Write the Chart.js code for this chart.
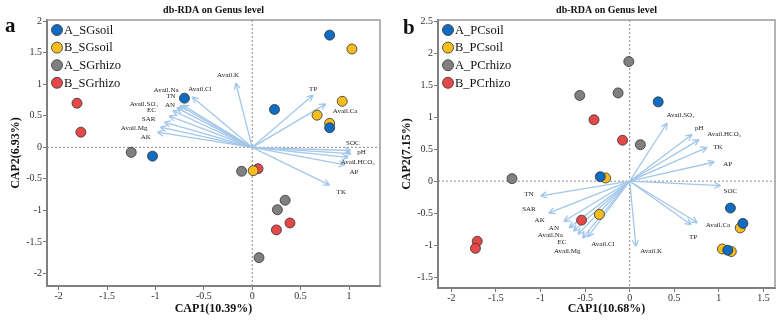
<!DOCTYPE html>
<html lang="en">
<head>
<meta charset="UTF-8">
<title>db-RDA on Genus level</title>
<script src="https://cdn.jsdelivr.net/npm/chart.js"></script>
<style>
  body { margin: 0; background: #fff; }
  .wrap { position: relative; width: 782px; height: 320px; }
  .panel { position: absolute; top: 0; width: 391px; height: 320px; }
  .tag { position: absolute; font: bold 21px "Liberation Serif", serif; line-height: 20px; color: #111; }
</style>
</head>
<body>
<div class="wrap">
  <div class="panel" style="left:0"><canvas id="chartA" width="391" height="320"></canvas></div>
  <div class="panel" style="left:391px"><canvas id="chartB" width="391" height="320"></canvas></div>
  <div class="tag" style="left:5px; top:15px">a</div>
  <div class="tag" style="left:403px; top:17px">b</div>
</div>
<script>
const SERIF = '"Liberation Serif", "Times New Roman", serif';
const groupColors = ['#0f6cc0', '#f5bd1f', '#808080', '#e44848'];

// ---- panel a (SG) ----
const groupsA = ['A_SGsoil', 'B_SGsoil', 'A_SGrhizo', 'B_SGrhizo'];
const sitesAX = [
  [-0.70, -1.03, 0.80, 0.23, 0.80],
  [1.03, 0.93, 0.67, 0.80, 0.01],
  [-1.25, -0.11, 0.34, 0.26, 0.07],
  [-1.81, -1.77, 0.06, 0.39, 0.25]
];
const sitesAY = [
  [0.78, -0.14, 1.78, 0.60, 0.31],
  [1.56, 0.73, 0.51, 0.38, -0.37],
  [-0.08, -0.38, -0.84, -0.99, -1.75],
  [0.70, 0.24, -0.34, -1.20, -1.31]
];
const envA = ['Avail.K', 'Avail.Cl', 'Avail.Na', 'TN', 'AN', 'Avail.SO\u2084', 'EC', 'SAR', 'Avail.Mg', 'AK',
              'TP', 'Avail.Ca', 'SOC', 'pH', 'Avail.HCO\u2083', 'AP', 'TK'];
const envAX = [-0.17, -0.62, -0.72, -0.75, -0.78, -0.82, -0.86, -0.91, -0.95, -0.98,
               0.63, 0.76, 1.02, 1.02, 0.99, 0.96, 0.80];
const envAY = [1.02, 0.80, 0.67, 0.66, 0.63, 0.58, 0.50, 0.40, 0.32, 0.24,
               0.83, 0.69, -0.05, -0.10, -0.16, -0.28, -0.60];
const envALabX = [-0.25, -0.54, -0.89, -0.84, -0.85, -1.12, -1.04, -1.07, -1.22, -1.10,
                  0.63, 0.96, 1.04, 1.13, 1.09, 1.05, 0.92];
const envALabY = [1.14, 0.92, 0.90, 0.81, 0.67, 0.69, 0.59, 0.44, 0.30, 0.16,
                  0.92, 0.57, 0.07, -0.08, -0.23, -0.40, -0.71];
const xTicksA = [-2, -1.5, -1, -0.5, 0, 0.5, 1];
const yTicksA = [-2, -1.5, -1, -0.5, 0, 0.5, 1, 1.5, 2];

// ---- panel b (PC) ----
const groupsB = ['A_PCsoil', 'B_PCsoil', 'A_PCrhizo', 'B_PCrhizo'];
const sitesBX = [
  [0.32, -0.33, 1.13, 1.27, 1.10],
  [-0.27, -0.34, 1.24, 1.04, 1.14],
  [-0.56, -0.01, -0.13, 0.12, -1.32],
  [-0.40, -0.08, -0.54, -1.71, -1.73]
];
const sitesBY = [
  [1.24, 0.07, -0.42, -0.66, -1.08],
  [0.05, -0.52, -0.73, -1.06, -1.10],
  [1.34, 1.87, 1.38, 0.57, 0.04],
  [0.96, 0.64, -0.61, -0.94, -1.05]
];
const envB = ['Avail.SO\u2084', 'pH', 'Avail.HCO\u2083', 'TK', 'AP', 'SOC', 'Avail.Ca', 'TP', 'Avail.K',
              'Avail.Cl', 'Avail.Mg', 'EC', 'Avail.Na', 'AN', 'AK', 'SAR', 'TN'];
const envBX = [0.42, 0.70, 0.78, 0.87, 0.95, 1.02, 0.76, 0.69, 0.07,
               -0.47, -0.53, -0.58, -0.63, -0.68, -0.74, -0.91, -1.00];
const envBY = [0.91, 0.73, 0.65, 0.53, 0.30, -0.07, -0.65, -0.68, -1.02,
               -0.87, -0.89, -0.83, -0.78, -0.73, -0.63, -0.50, -0.23];
const envBLabX = [0.57, 0.78, 1.06, 0.99, 1.10, 1.13, 0.99, 0.71, 0.24,
                  -0.30, -0.70, -0.76, -0.89, -0.85, -1.01, -1.13, -1.13];
const envBLabY = [1.03, 0.83, 0.73, 0.53, 0.27, -0.15, -0.68, -0.87, -1.10,
                  -0.98, -1.10, -0.96, -0.84, -0.73, -0.61, -0.44, -0.21];
const xTicksB = [-2, -1.5, -1, -0.5, 0, 0.5, 1, 1.5];
const yTicksB = [-1.5, -1, -0.5, 0, 0.5, 1, 1.5, 2, 2.5];

// frame, zero lines, env arrows + labels (behind the points); legend on top
const envArrows = {
  id: 'envArrows',
  beforeDatasetsDraw(chart, args, opts) {
    const {ctx, chartArea: area, scales: {x, y}} = chart;
    const x0 = x.getPixelForValue(0), y0 = y.getPixelForValue(0);
    ctx.save();
    ctx.strokeStyle = '#9a9a9a';
    ctx.lineWidth = 1.5;
    ctx.beginPath();
    ctx.moveTo(area.left, area.top);
    ctx.lineTo(area.right, area.top);
    ctx.lineTo(area.right, area.bottom);
    ctx.stroke();

    ctx.setLineDash([2, 2]);
    ctx.strokeStyle = '#8a8a8a';
    ctx.lineWidth = 1;
    ctx.beginPath();
    ctx.moveTo(x0, area.top); ctx.lineTo(x0, area.bottom);
    ctx.moveTo(area.left, y0); ctx.lineTo(area.right, y0);
    ctx.stroke();
    ctx.setLineDash([]);

    ctx.strokeStyle = '#a3c7ea';
    ctx.lineWidth = 1.3;
    opts.names.forEach((n, i) => {
      const tx = x.getPixelForValue(opts.x[i]), ty = y.getPixelForValue(opts.y[i]);
      const ang = Math.atan2(ty - y0, tx - x0);
      ctx.beginPath();
      ctx.moveTo(x0, y0);
      ctx.lineTo(tx, ty);
      for (const s of [-1, 1]) {
        const a2 = ang + Math.PI + s * 0.45;
        ctx.moveTo(tx, ty);
        ctx.lineTo(tx + 7 * Math.cos(a2), ty + 7 * Math.sin(a2));
      }
      ctx.stroke();
    });

    ctx.fillStyle = '#222';
    ctx.font = '7px ' + SERIF;
    ctx.textAlign = 'center';
    ctx.textBaseline = 'middle';
    opts.names.forEach((n, i) => {
      ctx.fillText(n, x.getPixelForValue(opts.lx[i]), y.getPixelForValue(opts.ly[i]));
    });
    ctx.restore();
  },
  afterDatasetsDraw(chart) {
    // legend inside the top-left corner of the plot
    const {ctx, chartArea: area} = chart;
    ctx.save();
    ctx.font = '12.5px ' + SERIF;
    ctx.textAlign = 'left';
    ctx.textBaseline = 'middle';
    chart.data.datasets.forEach((ds, i) => {
      const cy = area.top + 10 + i * 17.6;
      ctx.beginPath();
      ctx.arc(area.left + 10, cy, 5.5, 0, Math.PI * 2);
      ctx.fillStyle = ds.backgroundColor;
      ctx.fill();
      ctx.lineWidth = 0.8;
      ctx.strokeStyle = ds.borderColor;
      ctx.stroke();
      ctx.fillStyle = '#111';
      ctx.fillText(ds.label, area.left + 17, cy + 0.5);
    });
    ctx.restore();
  }
};

function makeChart(id, cfg) {
  const datasets = cfg.groups.map((g, i) => ({
    label: g,
    data: cfg.xs[i].map((v, j) => ({x: v, y: cfg.ys[i][j]})),
    backgroundColor: groupColors[i],
    borderColor: '#333',
    borderWidth: 0.8,
    pointRadius: 5,
    pointHoverRadius: 5
  }));
  const tickFont = {family: SERIF, size: 10};
  const titleFont = {family: SERIF, size: 12, weight: 'bold'};
  return new Chart(document.getElementById(id), {
    type: 'scatter',
    data: {datasets: datasets},
    plugins: [envArrows],
    options: {
      responsive: false,
      animation: false,
      events: [],
      layout: {padding: {left: 0, top: 0, right: cfg.padR, bottom: 0}},
      plugins: {
        tooltip: {enabled: false},
        legend: {display: false},
        title: {
          display: true,
          text: 'db-RDA on Genus level',
          fullSize: false,
          color: '#111',
          font: {family: SERIF, size: 10, weight: 'bold'},
          padding: {top: 4, bottom: 4}
        },
        envArrows: {names: cfg.env, x: cfg.ex, y: cfg.ey, lx: cfg.lx, ly: cfg.ly}
      },
      scales: {
        x: {
          type: 'linear',
          min: cfg.xMin, max: cfg.xMax,
          afterBuildTicks: s => { s.ticks = cfg.xTicks.map(v => ({value: v})); },
          afterFit: s => { s.height = cfg.xH; },
          grid: {drawOnChartArea: false, drawTicks: true, tickLength: 4, color: '#777'},
          border: {display: true, color: '#808080', width: 2},
          ticks: {font: tickFont, color: '#333', padding: 0, maxRotation: 0, autoSkip: false, callback: v => String(v)},
          title: {display: true, text: cfg.xTitle, color: '#111', font: titleFont, padding: {top: 0, bottom: 4}}
        },
        y: {
          type: 'linear',
          min: cfg.yMin, max: cfg.yMax,
          afterBuildTicks: s => { s.ticks = cfg.yTicks.map(v => ({value: v})); },
          afterFit: s => { s.width = 47; },
          grid: {drawOnChartArea: false, drawTicks: true, tickLength: 4, color: '#777'},
          border: {display: true, color: '#808080', width: 2},
          ticks: {font: tickFont, color: '#333', padding: 1, autoSkip: false, callback: v => String(v)},
          title: {display: true, text: cfg.yTitle, color: '#111', font: titleFont, padding: {top: 9, bottom: 0}}
        }
      }
    }
  });
}

makeChart('chartA', {
  groups: groupsA, xs: sitesAX, ys: sitesAY,
  env: envA, ex: envAX, ey: envAY, lx: envALabX, ly: envALabY,
  xMin: -2.12, xMax: 1.32, yMin: -2.2, yMax: 2.02,
  xTicks: xTicksA, yTicks: yTicksA,
  xTitle: 'CAP1(10.39%)', yTitle: 'CAP2(6.93%)',
  xH: 34, padR: 11
});

makeChart('chartB', {
  groups: groupsB, xs: sitesBX, ys: sitesBY,
  env: envB, ex: envBX, ey: envBY, lx: envBLabX, ly: envBLabY,
  xMin: -2.15, xMax: 1.63, yMin: -1.67, yMax: 2.52,
  xTicks: xTicksB, yTicks: yTicksB,
  xTitle: 'CAP1(10.68%)', yTitle: 'CAP2(7.15%)',
  xH: 32, padR: 7
});
</script>
</body>
</html>
